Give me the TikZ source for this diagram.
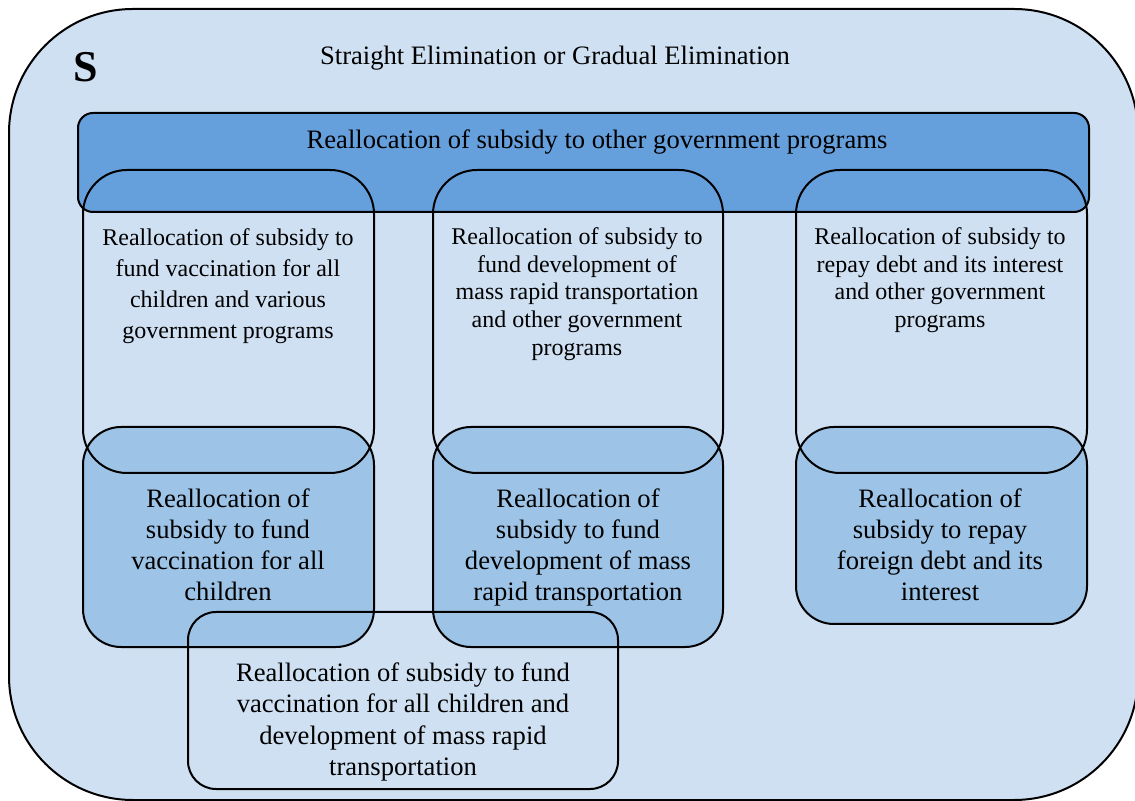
\documentclass[tikz,border=0pt]{standalone}
\usepackage{fontspec}
\setmainfont{Liberation Serif}
\definecolor{setfill}{RGB}{207,224,242}
\definecolor{barfill}{RGB}{101,159,220}
\definecolor{partfill}{RGB}{157,195,230}
\tikzset{
  txt/.style={align=center, inner sep=0pt, font=\fontsize{13.3}{15.5}\selectfont},
  smalltxt/.style={align=center, inner sep=0pt, font=\fontsize{12}{13.8}\selectfont},
}
\begin{document}
\begin{tikzpicture}[x=0.5pt, y=-0.5pt, line width=1pt]
        \useasboundingbox (0,0) rectangle (1135,801);
        \draw [fill=setfill, rounded corners=62pt]  (9,9) rectangle (1138,800);      %set S
        \node [font=\fontsize{22}{22}\selectfont\bfseries] (setname) at (86,67) {S};
        \node [txt] (title) at (555,58) {Straight Elimination or Gradual Elimination};
        \draw [fill=barfill, rounded corners=7.5pt] (78,113) rectangle (1089,212);   %other programs
        \node [txt] (other) at (597,142) {Reallocation of subsidy to other government programs};
        \draw [fill=partfill, rounded corners=19pt] (83,427) rectangle (374,647);    %vaccination
        \draw [fill=partfill, rounded corners=19pt] (433,427) rectangle (723,647);   %transportation
        \draw [fill=partfill, rounded corners=19pt] (796,427) rectangle (1087,624);  %foreign debt
        \draw [rounded corners=22pt]                (83,170) rectangle (374,473);    %vaccination + various
        \draw [rounded corners=22pt]                (433,170) rectangle (723,473);   %transportation + other
        \draw [rounded corners=22pt]                (796,170) rectangle (1087,473);  %debt + other
        \draw [rounded corners=14pt]                (188,612) rectangle (618,789);   %vaccination + transportation
        \node [smalltxt, font=\fontsize{12}{15.5}\selectfont] (vacprog) at (228,286)
              {Reallocation of subsidy to\\fund vaccination for all\\children and various\\government programs};
        \node [smalltxt] (transprog) at (577,294)
              {Reallocation of subsidy to\\fund development of\\mass rapid transportation\\and other government\\programs};
        \node [smalltxt] (debtprog) at (940,280)
              {Reallocation of subsidy to\\repay debt and its interest\\and other government\\programs};
        \node [txt] (vac) at (228,545) {Reallocation of\\subsidy to fund\\vaccination for all\\children};
        \node [txt] (trans) at (578,547) {Reallocation of\\subsidy to fund\\development of mass\\rapid transportation};
        \node [txt] (debt) at (940,545) {Reallocation of\\subsidy to repay\\foreign debt and its\\interest};
        \node [txt, font=\fontsize{13.3}{15.8}\selectfont] (vactrans) at (403,722)
              {Reallocation of subsidy to fund\\vaccination for all children and\\development of mass rapid\\transportation};
       \end{tikzpicture}
\end{document}
